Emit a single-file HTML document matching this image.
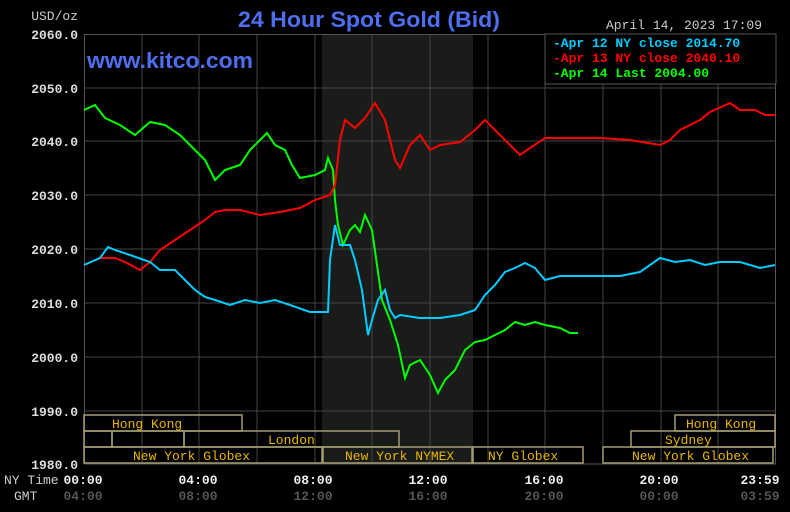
<!DOCTYPE html>
<html><head><style>
body{margin:0;background:#000;}
svg{display:block;}
.m{font-family:"Liberation Mono",monospace;font-weight:bold;font-size:13px;}
</style></head><body>
<svg width="790" height="512" xmlns="http://www.w3.org/2000/svg">
<rect width="790" height="512" fill="#000"/>
<rect x="322" y="34" width="151" height="430" fill="#1a1c1a"/>
<g stroke="#444" stroke-width="1">
<line x1="142" y1="34" x2="142" y2="464"/><line x1="199" y1="34" x2="199" y2="464"/>
<line x1="257" y1="34" x2="257" y2="464"/><line x1="315" y1="34" x2="315" y2="464"/>
<line x1="372" y1="34" x2="372" y2="464"/><line x1="430" y1="34" x2="430" y2="464"/>
<line x1="488" y1="34" x2="488" y2="464"/><line x1="545" y1="34" x2="545" y2="464"/>
<line x1="603" y1="34" x2="603" y2="464"/><line x1="661" y1="34" x2="661" y2="464"/>
<line x1="718" y1="34" x2="718" y2="464"/>
<line x1="84" y1="88" x2="776" y2="88"/><line x1="84" y1="141" x2="776" y2="141"/>
<line x1="84" y1="195" x2="776" y2="195"/><line x1="84" y1="249" x2="776" y2="249"/>
<line x1="84" y1="303" x2="776" y2="303"/><line x1="84" y1="357" x2="776" y2="357"/>
<line x1="84" y1="411" x2="776" y2="411"/>
</g>
<rect x="84.5" y="34.5" width="691" height="429.5" fill="none" stroke="#555"/>
<g fill="none" stroke="#a39d72" stroke-width="1.5">
<rect x="84" y="415" width="158" height="16"/><rect x="675" y="415" width="100" height="16"/>
<rect x="84" y="431" width="28" height="16"/><rect x="112" y="431" width="72" height="16"/>
<rect x="184" y="431" width="215" height="16"/><rect x="631" y="431" width="144" height="16"/>
<rect x="84" y="447" width="238" height="16"/><rect x="323" y="447" width="149" height="16"/>
<rect x="473" y="447" width="110" height="16"/><rect x="603" y="447" width="170" height="16"/>
</g>
<g font-family="Liberation Mono,monospace" font-size="13" fill="#e8b400">
<text x="112" y="428">Hong Kong</text><text x="686" y="428">Hong Kong</text>
<text x="268" y="444">London</text><text x="665" y="444">Sydney</text>
<text x="133" y="460">New York Globex</text><text x="345" y="460">New York NYMEX</text>
<text x="488" y="460">NY Globex</text><text x="632" y="460">New York Globex</text>
</g>
<polyline fill="none" stroke="#00ff00" stroke-width="2" points="84,110 95,105 105,118 120,125 135,135 150,122 165,125 180,135 195,150 205,160 215,180 225,170 240,165 250,150 260,140 267,133 275,145 285,150 292,165 300,178 315,175 325,170 328,158 333,170 335,200 338,225 343,245 350,230 355,225 360,232 365,215 372,230 377,265 382,300 390,320 398,345 405,378 410,365 420,360 430,375 438,393 445,380 455,370 465,350 475,342 485,340 495,335 505,330 515,322 525,325 535,322 545,325 560,328 570,333 578,333"/>
<polyline fill="none" stroke="#ff0000" stroke-width="2" points="84,265 100,258 115,258 125,262 140,270 150,262 160,250 175,240 190,230 205,220 215,212 225,210 240,210 260,215 280,212 300,208 315,200 330,195 335,185 340,140 345,120 355,128 365,118 375,103 385,120 395,160 400,168 410,145 420,135 430,150 440,145 460,142 475,130 485,120 495,130 510,145 520,155 530,148 545,138 570,138 600,138 630,140 660,145 670,140 680,130 700,120 710,112 730,103 740,110 755,110 765,115 775,115"/>
<polyline fill="none" stroke="#00ccff" stroke-width="2" points="84,265 100,258 108,247 115,250 130,255 150,262 160,270 175,270 185,280 195,290 205,297 215,300 230,305 245,300 260,303 275,300 290,305 310,312 328,312 330,260 335,225 340,245 350,245 355,260 362,290 368,335 372,320 378,300 385,290 390,310 395,318 400,315 420,318 440,318 460,315 475,310 485,295 495,285 505,272 515,268 525,263 535,268 545,280 560,276 580,276 600,276 620,276 640,272 660,258 675,262 690,260 705,265 720,262 740,262 760,268 775,265"/>
<rect x="545" y="34" width="231" height="50" fill="#000" stroke="#555"/>
<g class="m">
<text x="553" y="47" fill="#00ccff">-Apr 12 NY close 2014.70</text>
<text x="553" y="62" fill="#ff0000">-Apr 13 NY close 2040.10</text>
<text x="553" y="77" fill="#00ff00">-Apr 14 Last 2004.00</text>
<text x="762" y="29" fill="#ccc" text-anchor="end" font-weight="normal">April 14, 2023 17:09</text>
</g>
<text x="369" y="27" text-anchor="middle" font-family="Liberation Sans,sans-serif" font-size="22" font-weight="bold" fill="#4e6ef0" textLength="262" lengthAdjust="spacingAndGlyphs">24 Hour Spot Gold (Bid)</text>
<text x="87" y="68" font-family="Liberation Sans,sans-serif" font-size="22" font-weight="bold" fill="#4e6ef0" textLength="166" lengthAdjust="spacingAndGlyphs">www.kitco.com</text>
<g class="m" fill="#ddd" text-anchor="end">
<text x="78" y="20" font-weight="normal" fill="#ccc">USD/oz</text>
<text x="78" y="39">2060.0</text><text x="78" y="93">2050.0</text>
<text x="78" y="146">2040.0</text><text x="78" y="200">2030.0</text>
<text x="78" y="254">2020.0</text><text x="78" y="308">2010.0</text>
<text x="78" y="362">2000.0</text><text x="78" y="416">1990.0</text>
<text x="78" y="469">1980.0</text>
</g>
<text x="4" y="484" font-family="Liberation Mono,monospace" font-size="13" fill="#ccc">NY Time</text>
<text x="14" y="500" font-family="Liberation Mono,monospace" font-size="13" fill="#ccc">GMT</text>
<g class="m" fill="#eee" text-anchor="middle">
<text x="83" y="484">00:00</text><text x="198" y="484">04:00</text><text x="313" y="484">08:00</text>
<text x="428" y="484">12:00</text><text x="544" y="484">16:00</text><text x="659" y="484">20:00</text>
<text x="760" y="484">23:59</text>
</g>
<g class="m" fill="#555" text-anchor="middle">
<text x="83" y="500">04:00</text><text x="198" y="500">08:00</text><text x="313" y="500">12:00</text>
<text x="428" y="500">16:00</text><text x="544" y="500">20:00</text><text x="659" y="500">00:00</text>
<text x="760" y="500">03:59</text>
</g>
</svg>
</body></html>
